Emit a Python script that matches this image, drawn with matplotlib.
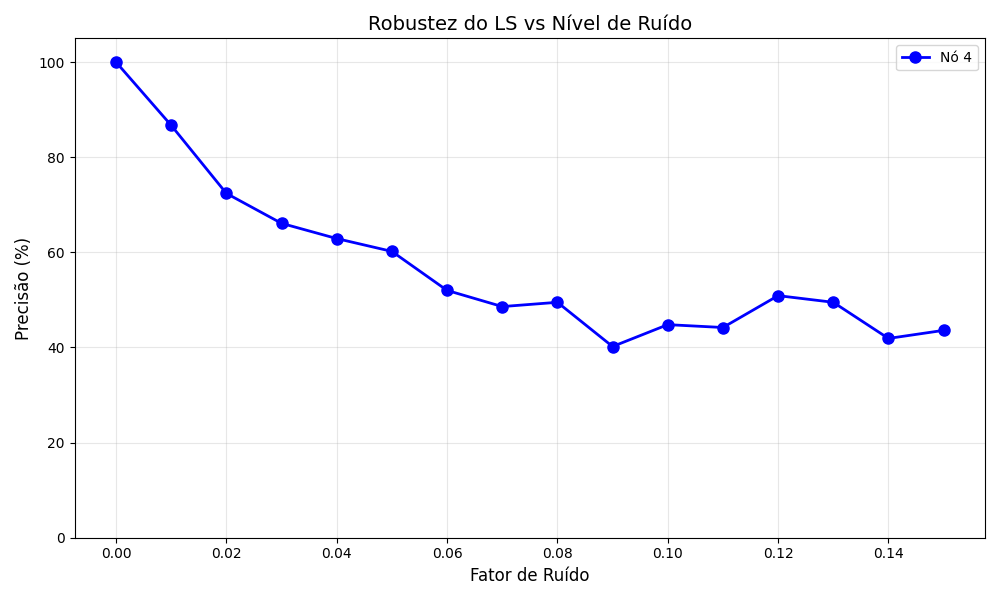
import matplotlib

matplotlib.use("Agg")
import matplotlib.pyplot as plt  # noqa: E402

noise = [0.00, 0.01, 0.02, 0.03, 0.04, 0.05, 0.06, 0.07,
         0.08, 0.09, 0.10, 0.11, 0.12, 0.13, 0.14, 0.15]
accuracy = [100.0, 86.7, 72.4, 66.1, 62.9, 60.2, 52.0, 48.6,
            49.5, 40.2, 44.8, 44.2, 50.9, 49.5, 41.9, 43.6]

fig, ax = plt.subplots(figsize=(10, 6), dpi=100)
ax.plot(noise, accuracy, "b-o", linewidth=2, markersize=8, label="Nó 4")
ax.set_xlabel("Fator de Ruído", fontsize=12)
ax.set_ylabel("Precisão (%)", fontsize=12)
ax.set_title("Robustez do LS vs Nível de Ruído", fontsize=14)
ax.set_ylim(0, 105)
ax.grid(True, alpha=0.3)
ax.legend()
fig.tight_layout()
fig.savefig("out.png")
